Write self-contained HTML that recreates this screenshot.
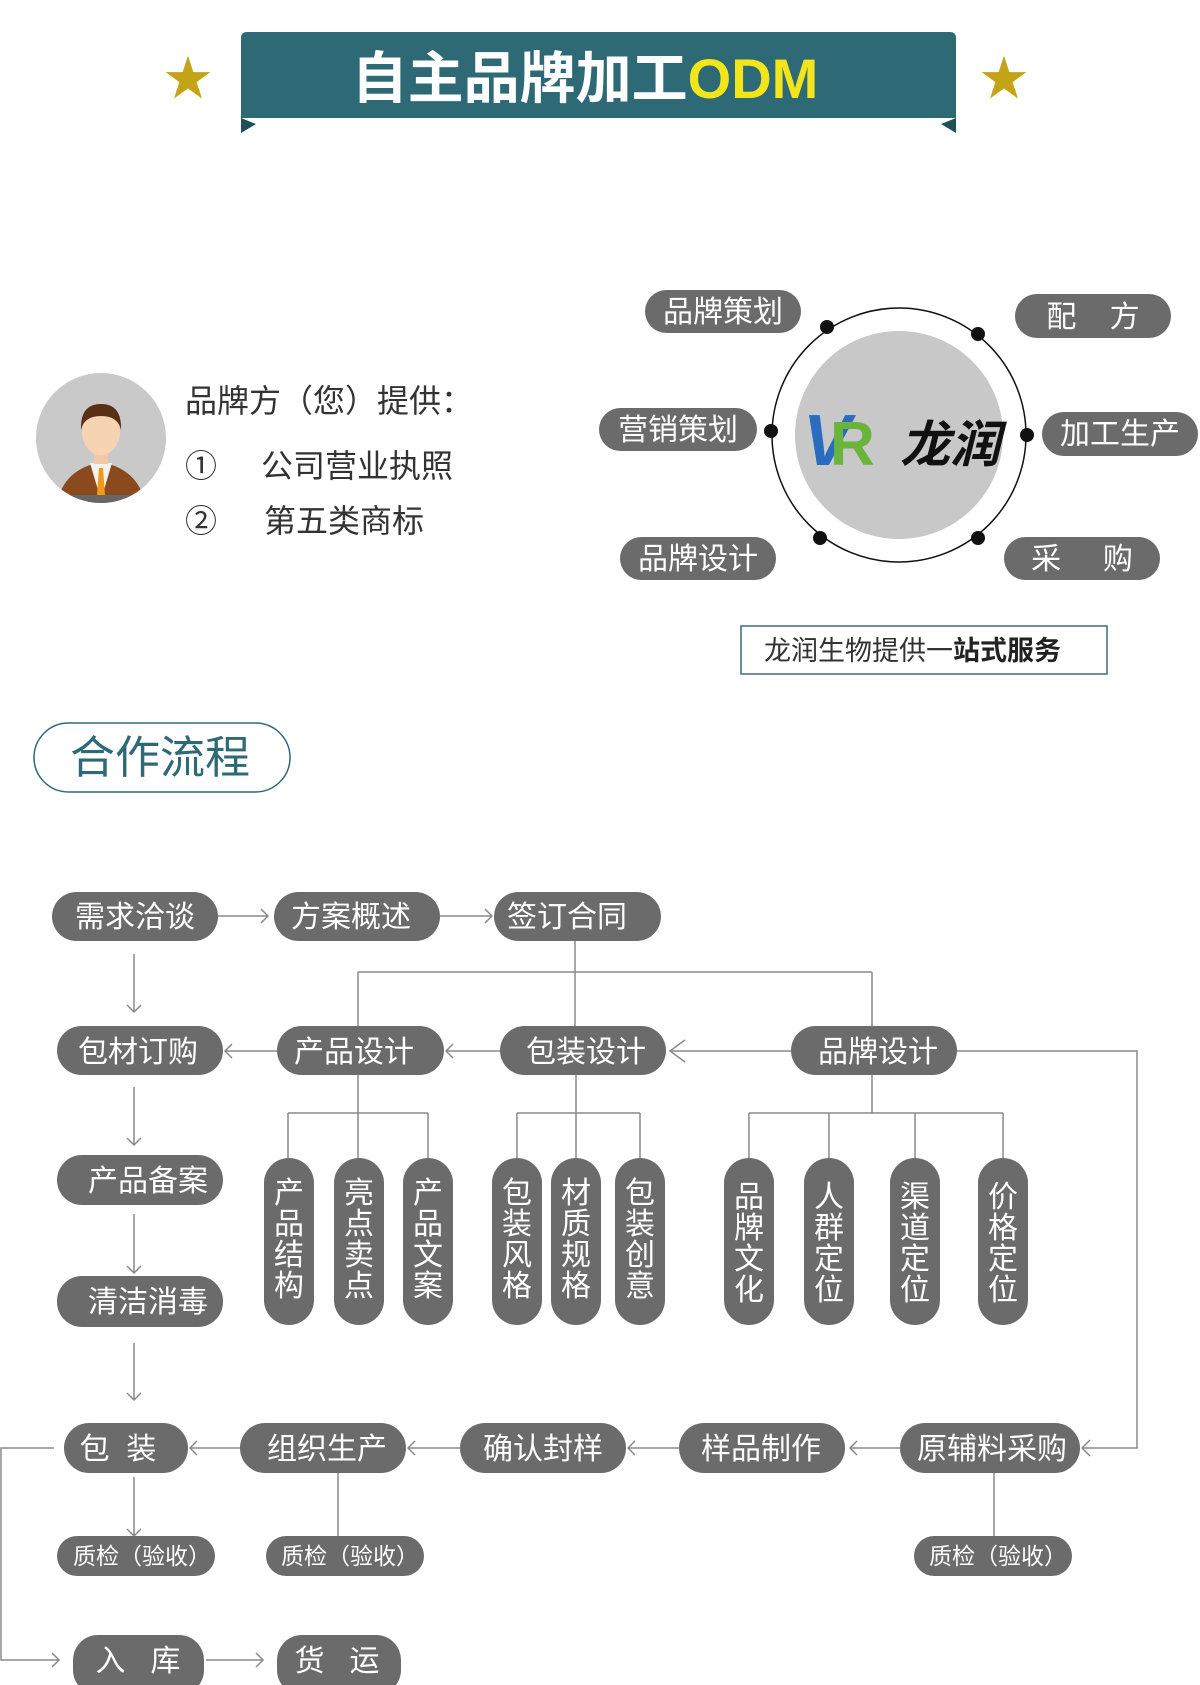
<!DOCTYPE html>
<html><head><meta charset="utf-8"><style>
html,body{margin:0;padding:0;background:#fff;}
svg{display:block;font-family:"Liberation Sans","Noto Sans CJK SC",sans-serif;}
.p{fill:#6b6b6b;}
.t{fill:#fff;font-size:30px;text-anchor:middle;}
.q{fill:#fff;font-size:23px;text-anchor:middle;}
.l{stroke:#8a8a8a;stroke-width:1.5;fill:none;}
</style></head><body>
<svg width="1200" height="1685" viewBox="0 0 1200 1685">
<path d="M241 118 L241 133 L256 124 Z" fill="#1f4f59"/>
<path d="M956 118 L956 133 L941 124 Z" fill="#1f4f59"/>
<path d="M247 32 H950 Q956 32 956 38 V118 H241 V38 Q241 32 247 32 Z" fill="#2e6a76"/>
<text x="585" y="98" font-size="56" font-weight="bold" text-anchor="middle" fill="#fff">自主品牌加工<tspan fill="#f2e51c">ODM</tspan></text>
<text x="188" y="95" font-size="48" text-anchor="middle" fill="#c4a416">★</text>
<text x="1004" y="95" font-size="48" text-anchor="middle" fill="#c4a416">★</text>

<circle cx="101" cy="438" r="65" fill="#c9c9c9"/>
<clipPath id="cc"><circle cx="101" cy="438" r="65"/></clipPath>
<g clip-path="url(#cc)">
<path d="M56 510 Q60 470 101 462 Q142 470 146 510 Z" fill="#8b4a1e"/>
<path d="M90 463 L101 500 L112 463 Z" fill="#f2f2f2"/>
<path d="M99 468 L103 468 L105 495 L101 500 L97 495 Z" fill="#f09a1a"/>
<rect x="94" y="448" width="14" height="16" fill="#f1c9a5"/>
<ellipse cx="101" cy="432" rx="19" ry="23" fill="#f6d3b3"/>
<path d="M81 430 Q80 404 101 404 Q122 404 121 430 Q118 416 101 416 Q84 416 81 430 Z" fill="#5a2f17"/>
<rect x="56" y="495" width="90" height="15" fill="#666"/>
</g>
<g font-size="32" fill="#333">
<text x="185" y="412">品牌方（您）提供：</text>
<text x="185" y="477">①</text><text x="261" y="477">公司营业执照</text>
<text x="185" y="532">②</text><text x="264" y="532">第五类商标</text>
</g>

<circle cx="899" cy="435" r="127" fill="none" stroke="#111" stroke-width="1.5"/>
<circle cx="899" cy="435" r="104" fill="#c8c8c8"/>
<g fill="#111">
<circle cx="827" cy="327" r="7"/><circle cx="978" cy="334" r="7"/>
<circle cx="771" cy="431" r="7"/><circle cx="1027" cy="435" r="7"/>
<circle cx="820" cy="538" r="7"/><circle cx="978" cy="538" r="7"/>
</g>
<text x="803" y="465" font-size="72" font-weight="bold" font-style="italic" fill="#2a6cc0">V</text>
<text x="830" y="465" font-size="62" font-weight="bold" fill="#6ab43c">R</text>
<text x="900" y="462" font-size="50" font-weight="bold" font-style="italic" fill="#111">龙润</text>

<g>
<rect class="p" x="645" y="290" width="156" height="43" rx="21.5"/><text class="t" x="723" y="322">品牌策划</text>
<rect class="p" x="1015" y="294" width="156" height="44" rx="22"/><text class="t" x="1093" y="327" xml:space="preserve">配    方</text>
<rect class="p" x="599" y="408" width="158" height="43" rx="21.5"/><text class="t" x="678" y="440">营销策划</text>
<rect class="p" x="1042" y="412" width="156" height="44" rx="22"/><text class="t" x="1120" y="444">加工生产</text>
<rect class="p" x="620" y="537" width="156" height="43" rx="21.5"/><text class="t" x="698" y="569">品牌设计</text>
<rect class="p" x="1004" y="537" width="156" height="43" rx="21.5"/><text class="t" x="1082" y="569" xml:space="preserve">采     购</text>
</g>
<rect x="741" y="626" width="366" height="48" fill="#fff" stroke="#3d6a7a" stroke-width="1.5"/>
<text x="764" y="660" font-size="27" fill="#333">龙润生物提供一<tspan font-weight="bold" fill="#222">站式服务</tspan></text>

<rect x="34" y="723" width="256" height="69" rx="34.5" fill="#fff" stroke="#2e6a76" stroke-width="1.5"/>
<text x="160" y="773" font-size="45" text-anchor="middle" fill="#2e6a76">合作流程</text>

<g class="l">
<path d="M218 916 H268 M261 909 L268 916 L261 923"/>
<path d="M440 916 H492 M485 909 L492 916 L485 923"/>
<path d="M575 941 V1026 M358 972 H872 M358 972 V1026 M872 972 V1026"/>
<path d="M134 954 V1012 M127 1005 L134 1012 L141 1005"/>
<path d="M277 1051 H225 M232 1044 L225 1051 L232 1058"/>
<path d="M500 1051 H446 M453 1044 L446 1051 L453 1058"/>
<path d="M791 1051 H670 M685 1040 L670 1051 L685 1062"/>
<path d="M957 1051 H1137 V1448 H1082 M1090 1440 L1082 1448 L1090 1456"/>
<path d="M134 1087 V1145 M127 1138 L134 1145 L141 1138"/>
<path d="M134 1214 V1273 M127 1266 L134 1273 L141 1266"/>
<path d="M134 1343 V1400 M127 1393 L134 1400 L141 1393"/>
<path d="M358 1075 V1160 M288 1113 H428 M288 1113 V1160 M428 1113 V1160"/>
<path d="M576 1075 V1160 M517 1113 H640 M517 1113 V1160 M640 1113 V1160"/>
<path d="M872 1075 V1113 M749 1113 H1003 M749 1113 V1160 M829 1113 V1160 M915 1113 V1160 M1003 1113 V1160"/>
<path d="M900 1448 H850 M857 1441 L850 1448 L857 1455"/>
<path d="M679 1448 H628 M635 1441 L628 1448 L635 1455"/>
<path d="M460 1448 H408 M415 1441 L408 1448 L415 1455"/>
<path d="M240 1448 H190 M197 1441 L190 1448 L197 1455"/>
<path d="M134 1477 V1536 M127 1529 L134 1536 L141 1529"/>
<path d="M338 1473 V1536 M994 1473 V1536"/>
<path d="M54 1448 H1 V1660 H59 M52 1653 L59 1660 L52 1667"/>
<path d="M206 1660 H263 M256 1653 L263 1660 L256 1667"/>
</g>

<g>
<rect class="p" x="52" y="892" width="166" height="49" rx="24.5"/><text class="t" x="135" y="927">需求洽谈</text>
<rect class="p" x="274" y="892" width="166" height="49" rx="24.5"/><text class="t" x="351" y="927">方案概述</text>
<rect class="p" x="494" y="892" width="167" height="49" rx="24.5"/><text class="t" x="567" y="927">签订合同</text>
<rect class="p" x="57" y="1026" width="166" height="49" rx="24.5"/><text class="t" x="138" y="1062">包材订购</text>
<rect class="p" x="277" y="1026" width="167" height="49" rx="24.5"/><text class="t" x="354" y="1062">产品设计</text>
<rect class="p" x="500" y="1026" width="166" height="49" rx="24.5"/><text class="t" x="586" y="1062">包装设计</text>
<rect class="p" x="791" y="1026" width="166" height="49" rx="24.5"/><text class="t" x="878" y="1062">品牌设计</text>
<rect class="p" x="57" y="1155" width="166" height="50" rx="25"/><text class="t" x="148" y="1191">产品备案</text>
<rect class="p" x="57" y="1276" width="166" height="51" rx="25"/><text class="t" x="148" y="1312">清洁消毒</text>
<rect class="p" x="64" y="1423" width="124" height="50" rx="25"/><text class="t" x="118" y="1459" xml:space="preserve">包  装</text>
<rect class="p" x="240" y="1423" width="166" height="50" rx="25"/><text class="t" x="327" y="1459">组织生产</text>
<rect class="p" x="460" y="1423" width="166" height="50" rx="25"/><text class="t" x="543" y="1459">确认封样</text>
<rect class="p" x="679" y="1423" width="166" height="50" rx="25"/><text class="t" x="761" y="1459">样品制作</text>
<rect class="p" x="900" y="1423" width="180" height="50" rx="25"/><text class="t" x="992" y="1459">原辅料采购</text>
<rect class="p" x="57" y="1536" width="158" height="40" rx="20"/><text class="q" x="142" y="1564">质检（验收）</text>
<rect class="p" x="266" y="1536" width="158" height="40" rx="20"/><text class="q" x="350" y="1564">质检（验收）</text>
<rect class="p" x="914" y="1536" width="158" height="40" rx="20"/><text class="q" x="998" y="1564">质检（验收）</text>
<rect class="p" x="73" y="1635" width="131" height="60" rx="25"/><text class="t" x="138" y="1671" xml:space="preserve">入   库</text>
<rect class="p" x="277" y="1635" width="124" height="60" rx="25"/><text class="t" x="337" y="1671" xml:space="preserve">货   运</text>
</g>

<g>
<rect class="p" x="264" y="1158" width="50" height="167" rx="25"/>
<rect class="p" x="334" y="1158" width="50" height="167" rx="25"/>
<rect class="p" x="403" y="1158" width="50" height="167" rx="25"/>
<rect class="p" x="492" y="1158" width="50" height="167" rx="25"/>
<rect class="p" x="551" y="1158" width="50" height="167" rx="25"/>
<rect class="p" x="615" y="1158" width="50" height="167" rx="25"/>
<rect class="p" x="724" y="1158" width="50" height="167" rx="25"/>
<rect class="p" x="804" y="1158" width="50" height="167" rx="25"/>
<rect class="p" x="890" y="1158" width="50" height="167" rx="25"/>
<rect class="p" x="978" y="1158" width="50" height="167" rx="25"/>
</g>
<g class="t">
<text x="289" y="1203">产</text><text x="289" y="1234">品</text><text x="289" y="1265">结</text><text x="289" y="1296">构</text>
<text x="359" y="1203">亮</text><text x="359" y="1234">点</text><text x="359" y="1265">卖</text><text x="359" y="1296">点</text>
<text x="428" y="1203">产</text><text x="428" y="1234">品</text><text x="428" y="1265">文</text><text x="428" y="1296">案</text>
<text x="517" y="1203">包</text><text x="517" y="1234">装</text><text x="517" y="1265">风</text><text x="517" y="1296">格</text>
<text x="576" y="1203">材</text><text x="576" y="1234">质</text><text x="576" y="1265">规</text><text x="576" y="1296">格</text>
<text x="640" y="1203">包</text><text x="640" y="1234">装</text><text x="640" y="1265">创</text><text x="640" y="1296">意</text>
<text x="749" y="1207">品</text><text x="749" y="1238">牌</text><text x="749" y="1269">文</text><text x="749" y="1300">化</text>
<text x="829" y="1207">人</text><text x="829" y="1238">群</text><text x="829" y="1269">定</text><text x="829" y="1300">位</text>
<text x="915" y="1207">渠</text><text x="915" y="1238">道</text><text x="915" y="1269">定</text><text x="915" y="1300">位</text>
<text x="1003" y="1207">价</text><text x="1003" y="1238">格</text><text x="1003" y="1269">定</text><text x="1003" y="1300">位</text>
</g>
</svg>
</body></html>
